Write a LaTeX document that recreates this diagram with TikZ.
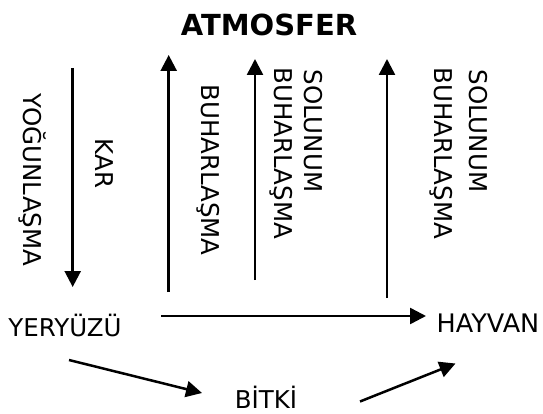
\documentclass[tikz,border=0pt]{standalone}
\usepackage{fontspec}
\setmainfont{DejaVu Sans}
\usetikzlibrary{arrows.meta}
\begin{document}
\begin{tikzpicture}[x=1pt,y=-1pt,
  lbl/.style={font=\fontsize{24.5}{29}\selectfont, inner sep=0pt},
  vlbl/.style={lbl, rotate=-90},
  arr/.style={line width=2.5pt, -{Triangle[length=16pt,width=16pt]}}]
\useasboundingbox (0,0) rectangle (543,414);
% title
\node[font=\bfseries\fontsize{29}{34}\selectfont, anchor=base, inner sep=0pt] (atm) at (269,36) {ATMOSFER};
% bottom nodes
\node[lbl, anchor=base] (yer) at (65,336) {YERYÜZÜ};
\node[lbl, anchor=base, font=\fontsize{25.5}{30}\selectfont] (hay) at (488,332) {HAYVAN};
\node[lbl, anchor=base] (bit) at (266,408.5) {BİTKİ};
% vertical labels
\node[vlbl] (yog) at (33,180) {YOĞUNLAŞMA};
\node[vlbl] (kar) at (104.5,163.5) {KAR};
\node[vlbl] (buh1) at (208.5,170) {BUHARLAŞMA};
\node[vlbl] (buh2) at (281,153.5) {BUHARLAŞMA};
\node[vlbl] (sol1) at (313.5,131) {SOLUNUM};
\node[vlbl] (buh3) at (441.5,153.5) {BUHARLAŞMA};
\node[vlbl] (sol2) at (478.5,131) {SOLUNUM};
% arrow ends
\coordinate (a1s) at (72.7,68);   \coordinate (a1e) at (72.7,287);
\coordinate (a2s) at (168.7,292); \coordinate (a2e) at (168.7,55);
\coordinate (a3s) at (255,280);   \coordinate (a3e) at (255,59);
\coordinate (a4s) at (387,298);   \coordinate (a4e) at (387,59);
\coordinate (hs) at (161,316);    \coordinate (he) at (426,316);
\coordinate (d1s) at (69,360);    \coordinate (d1e) at (202,393);
\coordinate (d2s) at (360,401.5); \coordinate (d2e) at (455.5,363.5);
\draw[arr] (a1s) -- (a1e);
\draw[arr] (a2s) -- (a2e);
\draw[arr] (a3s) -- (a3e);
\draw[arr] (a4s) -- (a4e);
\draw[arr] (hs) -- (he);
\draw[arr] (d1s) -- (d1e);
\draw[arr] (d2s) -- (d2e);
\end{tikzpicture}
\end{document}
